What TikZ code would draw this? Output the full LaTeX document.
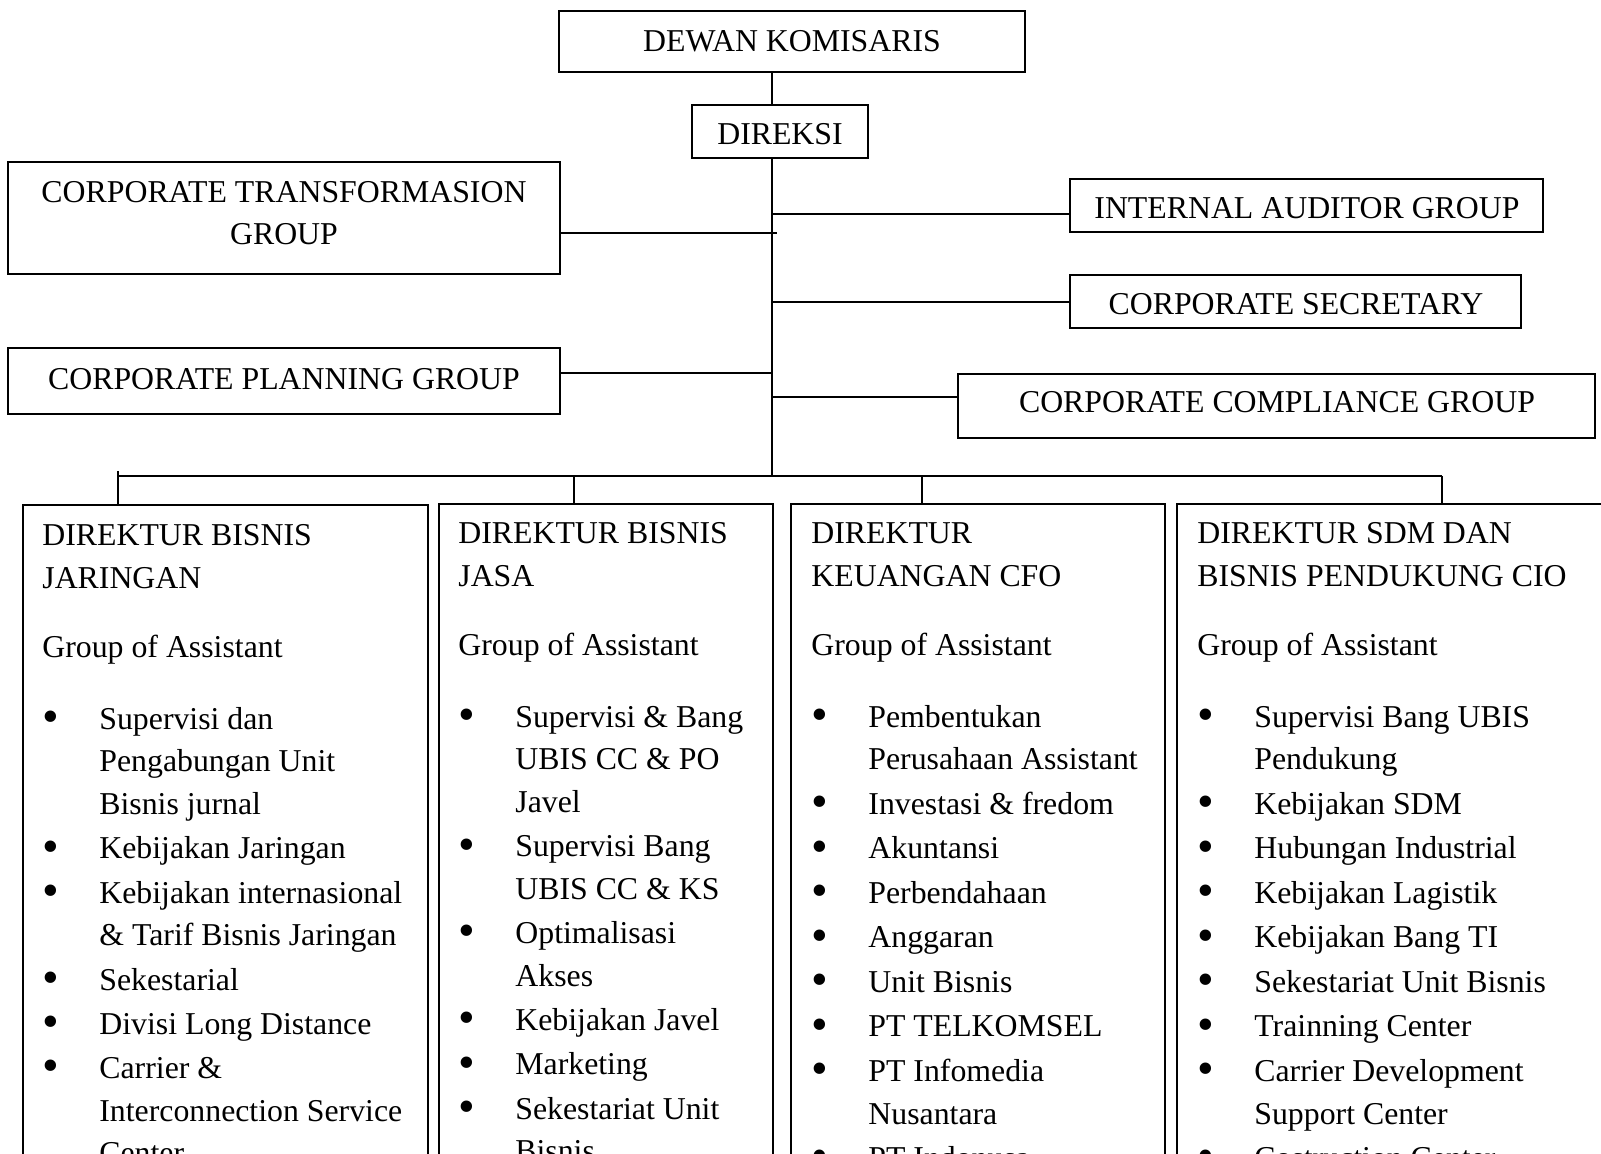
\documentclass[tikz,border=0pt]{standalone}
\usepackage{fontspec}
\setmainfont{Liberation Serif}
\newcommand\orgbul[1]{\makebox[28.5pt][l]{\hspace{4pt}\makebox[0pt]{\raisebox{-1.6pt}{\scalebox{1.5}{\textbullet}}}}#1}
\newcommand\orgcont[1]{\hspace*{28.5pt}#1}
\newcommand\orglist[1]{\parbox[t]{215pt}{\raggedright #1}}
\tikzset{
  every node/.style={font=\fontsize{15.9}{21.3}\selectfont},
  topbox/.style={draw, line width=1pt, inner sep=0pt, align=center},
  dirbox/.style={draw, line width=1pt, inner sep=0pt, anchor=north west, minimum height=348.5pt},
  dirtext/.style={inner sep=0pt, anchor=base west},
  plaintext/.style={inner sep=0pt, align=center},
  link/.style={line width=1pt}
}
\begin{document}
\begin{tikzpicture}[x=0.5pt,y=-0.5pt]
\useasboundingbox (0,0) rectangle (1601,1154);
\clip (0,0) rectangle (1601,1154);
\fill[white] (0,0) rectangle (1601,1154);

% top level
\node[topbox, minimum width=233pt, minimum height=30.75pt] (dewan) at (792,41.75) {};
\node[plaintext] (dewant) at (792,41) {DEWAN KOMISARIS};
\node[topbox, minimum width=88pt, minimum height=26.5pt] (direksi) at (780,131.5) {};
\node[plaintext] (direksit) at (780,134) {DIREKSI};

% staff boxes
\node[topbox, minimum width=276pt, minimum height=56pt] (ctg) at (284,218) {};
\node[plaintext, font=\fontsize{15.9}{20.9}\selectfont] (ctgt) at (284,213) {CORPORATE TRANSFORMASION\\GROUP};
\node[topbox, minimum width=276pt, minimum height=33pt] (cpg) at (284,381) {};
\node[plaintext] (cpgt) at (284,379) {CORPORATE PLANNING GROUP};
\node[topbox, minimum width=236.5pt, minimum height=26.5pt] (iag) at (1306.5,205.5) {};
\node[plaintext] (iagt) at (1307,208) {INTERNAL AUDITOR GROUP};
\node[topbox, minimum width=225.5pt, minimum height=26.5pt] (cs) at (1295.5,301.5) {};
\node[plaintext] (cst) at (1296,304.5) {CORPORATE SECRETARY};
\node[topbox, minimum width=318.5pt, minimum height=32pt] (ccg) at (1276.5,406) {};
\node[plaintext] (ccgt) at (1277,402.5) {CORPORATE COMPLIANCE GROUP};

% trunk and bus coordinates
\coordinate (tr) at (772,476);
\coordinate (k1) at (777,233);
\coordinate (k2) at (772,214);
\coordinate (k3) at (772,302);
\coordinate (k4) at (772,373);
\coordinate (k5) at (772,397);
\coordinate (b1) at (118,476);
\coordinate (b2) at (574,476);
\coordinate (b3) at (922,476);
\coordinate (b4) at (1442,476);

% director boxes
\node[dirbox, minimum width=202.5pt] (d1) at (22,504) {};
\node[dirbox, minimum width=167pt] (d2) at (438,503) {};
\node[dirbox, minimum width=187pt] (d3) at (790,503) {};
\node[dirbox, minimum width=219.5pt] (d4) at (1176,503) {};

% connectors
\draw[link] (dewan.south -| tr) -- (direksi.north -| tr);
\draw[link] (direksi.south -| tr) -- (tr);
\draw[link] (ctg.east |- k1) -- (k1);
\draw[link] (k2) -- (k2 -| iag.west);
\draw[link] (k3) -- (k3 -| cs.west);
\draw[link] (cpg.east |- k4) -- (k4);
\draw[link] (k5) -- (k5 -| ccg.west);
\draw[link] (b1) -- (b4);
\draw[link] ([yshift=2.5pt]b1) -- (b1 |- d1.north);
\draw[link] (b2) -- (b2 |- d2.north);
\draw[link] (b3) -- (b3 |- d3.north);
\draw[link] (b4) -- (b4 |- d4.north);

% director texts
\node[dirtext] (t1) at (42,546) {\orglist{DIREKTUR BISNIS\\
JARINGAN\\[13.4pt]
Group of Assistant\\[14.4pt]
\orgbul{Supervisi dan}\\
\orgcont{Pengabungan Unit}\\
\orgcont{Bisnis jurnal}\\[0.85pt]
\orgbul{Kebijakan Jaringan}\\[0.85pt]
\orgbul{Kebijakan internasional}\\
\orgcont{\& Tarif Bisnis Jaringan}\\[0.85pt]
\orgbul{Sekestarial}\\[0.85pt]
\orgbul{Divisi Long Distance}\\[0.85pt]
\orgbul{Carrier \&}\\
\orgcont{Interconnection Service}\\
\orgcont{Center}}};

\node[dirtext] (t2) at (458,544) {\orglist{DIREKTUR BISNIS\\
JASA\\[13.4pt]
Group of Assistant\\[14.4pt]
\orgbul{Supervisi \& Bang}\\
\orgcont{UBIS CC \& PO}\\
\orgcont{Javel}\\[0.85pt]
\orgbul{Supervisi Bang}\\
\orgcont{UBIS CC \& KS}\\[0.85pt]
\orgbul{Optimalisasi}\\
\orgcont{Akses}\\[0.85pt]
\orgbul{Kebijakan Javel}\\[0.85pt]
\orgbul{Marketing}\\[0.85pt]
\orgbul{Sekestariat Unit}\\
\orgcont{Bisnis}}};

\node[dirtext] (t3) at (811,544) {\orglist{DIREKTUR\\
KEUANGAN CFO\\[13.4pt]
Group of Assistant\\[14.4pt]
\orgbul{Pembentukan}\\
\orgcont{Perusahaan Assistant}\\[0.95pt]
\orgbul{Investasi \& fredom}\\[0.95pt]
\orgbul{Akuntansi}\\[0.95pt]
\orgbul{Perbendahaan}\\[0.95pt]
\orgbul{Anggaran}\\[0.95pt]
\orgbul{Unit Bisnis}\\[0.95pt]
\orgbul{PT TELKOMSEL}\\[0.95pt]
\orgbul{PT Infomedia}\\
\orgcont{Nusantara}\\[0.95pt]
\orgbul{PT Indonusa}}};

\node[dirtext] (t4) at (1197,544) {\orglist{DIREKTUR SDM DAN\\
BISNIS PENDUKUNG CIO\\[13.4pt]
Group of Assistant\\[14.4pt]
\orgbul{Supervisi Bang UBIS}\\
\orgcont{Pendukung}\\[0.95pt]
\orgbul{Kebijakan SDM}\\[0.95pt]
\orgbul{Hubungan Industrial}\\[0.95pt]
\orgbul{Kebijakan Lagistik}\\[0.95pt]
\orgbul{Kebijakan Bang TI}\\[0.95pt]
\orgbul{Sekestariat Unit Bisnis}\\[0.95pt]
\orgbul{Trainning Center}\\[0.95pt]
\orgbul{Carrier Development}\\
\orgcont{Support Center}\\[0.95pt]
\orgbul{Costruction Center}}};
\end{tikzpicture}
\end{document}
